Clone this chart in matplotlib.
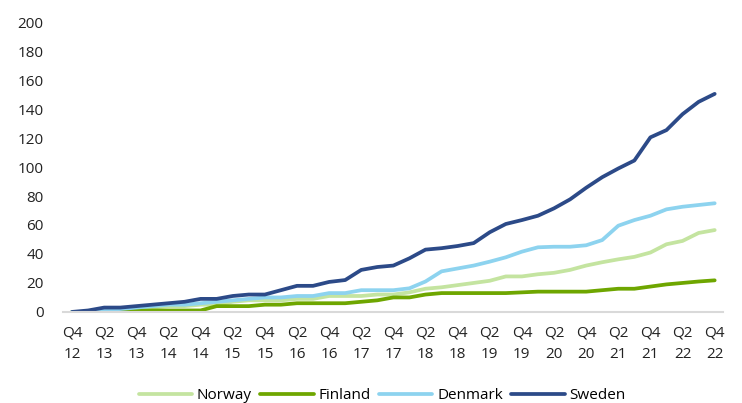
import matplotlib.pyplot as plt
import numpy as np

plt.rcParams['font.family'] = ['Open Sans', 'DejaVu Sans']

# quarterly, Q4 2012 .. Q4 2022
quarters = [f"Q{q}\n{y % 100}" for y, q in
            [(2012, 4)] + [(y, q) for y in range(2013, 2023) for q in (1, 2, 3, 4)]]

norway = [0, 0, 0, 1, 2, 3, 4, 4, 5, 5, 7, 8, 8, 8, 9, 9, 11, 11, 11, 12,
          12, 13.5, 16, 17, 18.5, 20, 21.5, 24.5, 24.5, 26, 27, 29, 32, 34.3,
          36.3, 38, 41, 46.7, 49, 54.5, 56.5]
finland = [0, 0, 0, 0, 1, 1, 1, 1, 1, 4, 4, 4, 5, 5, 6, 6, 6, 6, 7, 8,
           10, 10, 12, 13, 13, 13, 13, 13, 13.5, 14, 14, 14, 14, 15, 16,
           16, 17.5, 19, 20, 21, 21.8]
denmark = [0, 0, 1, 2, 3, 4, 5, 5, 6, 7, 8, 9, 10, 10, 11, 11, 13, 13, 15,
           15, 15, 16.3, 21, 28, 30, 32, 34.7, 37.7, 41.6, 44.6, 45, 45, 46,
           49.6, 59.5, 63.4, 66.4, 70.8, 72.6, 73.8, 75]
sweden = [0, 1, 3, 3, 4, 5, 6, 7, 9, 9, 11, 12, 12, 15, 18, 18, 20.7, 22,
          29, 31, 32, 37, 43, 44, 45.5, 47.5, 55, 60.7, 63.4, 66.4, 71.5,
          77.7, 85.7, 93, 99, 104.5, 120.5, 125.5, 136.5, 145, 150.5]

series = [("Norway", norway, "#c4e4a0"),
          ("Finland", finland, "#6ea600"),
          ("Denmark", denmark, "#8dd3ef"),
          ("Sweden", sweden, "#2c4a88")]

fig = plt.figure(figsize=(7.42, 4.03), dpi=100)
ax = fig.add_axes([0.085, 0.226, 0.889, 0.719])

x = np.arange(len(quarters))
for name, vals, col in series:
    ax.plot(x, vals, color=col, lw=2.7, label=name, solid_capstyle='round')

ax.set_xlim(-0.56, 40.5)
ax.set_ylim(0, 200)
ax.set_yticks(range(0, 201, 20))
ax.set_xticks(x[::2])
ax.set_xticklabels(quarters[::2], linespacing=1.6)
ax.tick_params(axis='both', length=0, labelsize=11, colors='#222222')
ax.tick_params(axis='y', pad=14)
ax.tick_params(axis='x', pad=10)

for s in ('top', 'right', 'left'):
    ax.spines[s].set_visible(False)
ax.spines['bottom'].set_color('#d9d9d9')
ax.spines['bottom'].set_linewidth(1.5)
ax.set_zorder(1)

fig.legend(loc='lower center', bbox_to_anchor=(0.515, -0.035), ncol=4,
           frameon=False, fontsize=11, handlelength=3.5, columnspacing=0.55,
           handletextpad=0.3)

fig.savefig("out.png", dpi=100)
